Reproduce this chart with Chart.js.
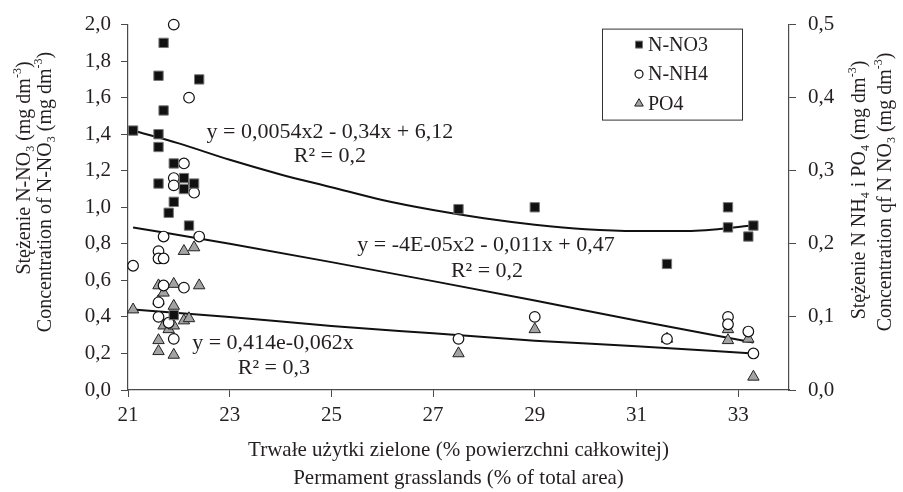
<!DOCTYPE html>
<html>
<head>
<meta charset="utf-8">
<script src="https://cdn.jsdelivr.net/npm/chart.js@4.4.1/dist/chart.umd.min.js"></script>
<style>
  html, body { margin: 0; padding: 0; background: #fff; }
  #wrap { width: 903px; height: 492px; }
</style>
</head>
<body>
<div id="wrap"><canvas id="chart" width="903" height="492"></canvas></div>
<script>
/* ── Data ─────────────────────────────────────────────────────────── */

// tick labels
const xTicks     = [21, 23, 25, 27, 29, 31, 33];
const leftTicks  = [0, 0.2, 0.4, 0.6, 0.8, 1.0, 1.2, 1.4, 1.6, 1.8, 2.0];
const rightTicks = [0, 0.1, 0.2, 0.3, 0.4, 0.5];

// N-NO3 (left axis, mg dm-3)
const no3X = [21.1, 21.6, 21.6, 21.6, 21.6, 21.7, 21.7, 21.8, 21.9, 21.9, 21.9, 22.1, 22.1, 22.2, 22.3, 22.4, 27.5, 29.0, 31.6, 32.8, 32.8, 33.2, 33.3];
const no3Y = [1.42, 1.72, 1.40, 1.33, 1.13, 1.90, 1.53, 0.97, 1.24, 1.03, 0.41, 1.16, 1.10, 0.90, 1.13, 1.70, 0.99, 1.00, 0.69, 1.00, 0.89, 0.84, 0.90];

// N-NH4 (right axis, mg dm-3)
const nh4X = [21.1, 21.6, 21.6, 21.7, 21.7, 21.7, 21.6, 21.6, 21.8, 21.9, 21.9, 21.9, 21.9, 22.1, 22.1, 22.1, 22.2, 22.3, 22.4, 27.5, 29.0, 31.6, 32.8, 32.8, 33.2, 33.3];
const nh4Y = [0.170, 0.190, 0.180, 0.180, 0.210, 0.143, 0.120, 0.100, 0.092, 0.070, 0.500, 0.290, 0.280, 0.310, 0.280, 0.140, 0.400, 0.270, 0.210, 0.070, 0.100, 0.070, 0.100, 0.090, 0.080, 0.050];

// PO4 (right axis, mg dm-3)
const po4X = [21.1, 21.6, 21.6, 21.6, 21.6, 21.7, 21.7, 21.8, 21.9, 21.9, 21.9, 21.9, 22.1, 22.1, 22.2, 22.3, 22.4, 27.5, 29.0, 31.6, 32.8, 32.8, 33.2, 33.3];
const po4Y = [0.110, 0.143, 0.122, 0.068, 0.053, 0.133, 0.088, 0.083, 0.145, 0.115, 0.088, 0.048, 0.190, 0.095, 0.098, 0.195, 0.143, 0.050, 0.083, 0.070, 0.083, 0.068, 0.070, 0.018];

// trend lines
const no3TrendX = [21.1, 22, 23, 24, 25, 26, 27, 28, 29, 30, 31, 32, 33.3];
const no3TrendY = [1.42, 1.35, 1.26, 1.18, 1.11, 1.04, 0.985, 0.94, 0.905, 0.88, 0.87, 0.87, 0.90];
const nh4TrendX = [21.1, 23, 25, 27, 29, 31, 33.3];
const nh4TrendY = [0.2225, 0.200, 0.175, 0.149, 0.1225, 0.095, 0.065];
const po4TrendX = [21.1, 23, 25, 27, 29, 31, 33.3];
const po4TrendY = [0.110, 0.100, 0.0875, 0.0775, 0.0675, 0.060, 0.050];

const seriesLabels = ['N-NO3', 'N-NH4', 'PO4'];
const equations = [
  { axis: 'y',  x: 24.97, y: 1.42,  text: 'y = 0,0054x2 - 0,34x + 6,12' },
  { axis: 'y',  x: 24.97, y: 1.29,  text: 'R² = 0,2' },
  { axis: 'y',  x: 28.04, y: 0.804, text: 'y = -4E-05x2 - 0,011x + 0,47' },
  { axis: 'y',  x: 28.06, y: 0.66,  text: 'R² = 0,2' },
  { axis: 'y',  x: 23.85, y: 0.268, text: 'y = 0,414e-0,062x' },
  { axis: 'y',  x: 23.87, y: 0.129, text: 'R² = 0,3' },
];

/* ── Styling ─────────────────────────────────────────────────────── */

const FONT  = '"Liberation Serif", "Times New Roman", serif';
const INK   = '#231f20';
const AXIS  = '#4a4a4a';
const fmt1  = v => v.toFixed(1).replace('.', ',');
const pts   = (xs, ys) => xs.map((x, i) => ({ x, y: ys[i] }));

const markerStyles = [
  { pointStyle: 'rect',     radius: 6.6, backgroundColor: '#111', borderColor: '#777', borderWidth: 1 },
  { pointStyle: 'circle',   radius: 5.3, backgroundColor: '#fff', borderColor: '#111', borderWidth: 1.2 },
  { pointStyle: 'triangle', radius: 6.6, backgroundColor: '#a3a3a3', borderColor: '#222', borderWidth: 1 },
];

function markerDataset(label, data, axis, st) {
  return {
    label, data, yAxisID: axis, showLine: false, order: 1, clip: false,
    pointStyle: st.pointStyle, pointRadius: st.radius, pointHoverRadius: st.radius,
    pointBackgroundColor: st.backgroundColor, pointBorderColor: st.borderColor,
    pointBorderWidth: st.borderWidth,
  };
}
function trendDataset(data, axis) {
  return {
    label: 'trend', data, yAxisID: axis, showLine: true, order: 2,
    borderColor: '#111', borderWidth: 2, pointRadius: 0, fill: false,
    cubicInterpolationMode: 'monotone',
  };
}

// draw text made of runs (normal / sub / sup), centred on (0,0) of current transform
function drawRuns(ctx, runs, size) {
  const small = Math.round(size * 0.62);
  let total = 0;
  runs.forEach(r => {
    ctx.font = `${r.s ? small : size}px ${FONT}`;
    r.w = ctx.measureText(r.t).width;
    total += r.w;
  });
  let x = -total / 2;
  const base = size * 0.34;
  runs.forEach(r => {
    ctx.font = `${r.s ? small : size}px ${FONT}`;
    const dy = r.s === 'sub' ? size * 0.22 : r.s === 'sup' ? -size * 0.42 : 0;
    ctx.fillText(r.t, x, base + dy);
    x += r.w;
  });
}

const leftTitle = [
  { cx: 23, cy: 168, runs: [{ t: 'Stężenie N-NO' }, { t: '3', s: 'sub' }, { t: ' (mg dm' }, { t: '-3', s: 'sup' }, { t: ')' }] },
  { cx: 44, cy: 192, runs: [{ t: 'Concentration of N-NO' }, { t: '3', s: 'sub' }, { t: ' (mg dm' }, { t: '-3', s: 'sup' }, { t: ')' }] },
];
const rightTitle = [
  { cx: 858, cy: 190, runs: [{ t: 'Stężenie N NH' }, { t: '4', s: 'sub' }, { t: ' i PO' }, { t: '4', s: 'sub' }, { t: ' (mg dm' }, { t: '-3', s: 'sup' }, { t: ')' }] },
  { cx: 884, cy: 192, runs: [{ t: 'Concentration qf N NO' }, { t: '3', s: 'sub' }, { t: ' (mg dm' }, { t: '-3', s: 'sup' }, { t: ')' }] },
];
const bottomTitle = [
  { dy: 59, text: 'Trwałe użytki zielone (% powierzchni całkowitej)' },
  { dy: 87, text: 'Permament grasslands (% of total area)' },
];

const decorPlugin = {
  id: 'decor',
  afterDraw(chart) {
    const { ctx, chartArea: ca, scales } = chart;
    ctx.save();
    ctx.fillStyle = INK;
    ctx.textAlign = 'left';
    ctx.textBaseline = 'alphabetic';

    // axis titles
    [...leftTitle, ...rightTitle].forEach(l => {
      ctx.save();
      ctx.translate(l.cx, l.cy);
      ctx.rotate(-Math.PI / 2);
      drawRuns(ctx, l.runs, 20);
      ctx.restore();
    });
    const mid = (ca.left + ca.right) / 2;
    bottomTitle.forEach(l => {
      ctx.save();
      ctx.translate(mid, ca.bottom + l.dy);
      drawRuns(ctx, [{ t: l.text }], 21);
      ctx.restore();
    });

    // trend-line equations
    equations.forEach(e => {
      ctx.save();
      ctx.translate(scales.x.getPixelForValue(e.x), scales[e.axis].getPixelForValue(e.y));
      drawRuns(ctx, [{ t: e.text }], 22);
      ctx.restore();
    });

    // legend box
    const lx = ca.left + 474, ly = ca.top + 4, lw = 140, lh = 91;
    ctx.strokeStyle = '#333';
    ctx.lineWidth = 1;
    ctx.strokeRect(lx + 0.5, ly + 0.5, lw, lh);
    seriesLabels.forEach((lab, i) => {
      const st = markerStyles[i];
      const y = ly + 16 + i * 29.5;
      ctx.fillStyle = st.backgroundColor;
      ctx.strokeStyle = st.borderColor;
      ctx.lineWidth = st.borderWidth;
      Chart.helpers.drawPoint(ctx, { pointStyle: st.pointStyle, radius: st.radius * 0.75, rotation: 0, borderWidth: st.borderWidth }, lx + 37, y);
      ctx.fillStyle = INK;
      ctx.font = `20px ${FONT}`;
      ctx.textBaseline = 'middle';
      ctx.fillText(lab, lx + 46, y + 1);
    });
    ctx.restore();
  },
};

const tickFont = { family: FONT, size: 21 };
const gridOpts = { display: true, drawOnChartArea: false, drawTicks: true, tickLength: 7, color: AXIS, tickColor: AXIS, lineWidth: 1 };
const borderOpts = { display: true, color: AXIS, width: 1.2 };

new Chart(document.getElementById('chart').getContext('2d'), {
  type: 'scatter',
  data: {
    datasets: [
      markerDataset(seriesLabels[0], pts(no3X, no3Y), 'y',  markerStyles[0]),
      markerDataset(seriesLabels[1], pts(nh4X, nh4Y), 'y2', markerStyles[1]),
      markerDataset(seriesLabels[2], pts(po4X, po4Y), 'y2', markerStyles[2]),
      trendDataset(pts(no3TrendX, no3TrendY), 'y'),
      trendDataset(pts(nh4TrendX, nh4TrendY), 'y2'),
      trendDataset(pts(po4TrendX, po4TrendY), 'y2'),
    ],
  },
  options: {
    responsive: false,
    animation: false,
    devicePixelRatio: 1,
    layout: { padding: { top: 18, left: 0, right: 0, bottom: 0 } },
    plugins: { legend: { display: false }, tooltip: { enabled: false } },
    scales: {
      x: {
        type: 'linear', position: 'bottom', min: 21, max: 34,
        afterBuildTicks: s => { s.ticks = xTicks.map(v => ({ value: v })); },
        afterFit: s => { s.height = 102; },
        ticks: { font: tickFont, color: INK, padding: 6, maxRotation: 0, callback: v => String(v) },
        grid: gridOpts, border: borderOpts,
      },
      y: {
        type: 'linear', position: 'left', min: 0, max: 2,
        afterBuildTicks: s => { s.ticks = leftTicks.map(v => ({ value: v })); },
        afterFit: s => { s.width = 128; },
        ticks: { font: tickFont, color: INK, padding: 10, callback: v => fmt1(v) },
        grid: gridOpts, border: borderOpts,
      },
      y2: {
        type: 'linear', position: 'right', min: 0, max: 0.5,
        afterBuildTicks: s => { s.ticks = rightTicks.map(v => ({ value: v })); },
        afterFit: s => { s.width = 114; },
        ticks: { font: tickFont, color: INK, padding: 12, callback: v => fmt1(v) },
        grid: gridOpts, border: borderOpts,
      },
    },
  },
  plugins: [decorPlugin],
});
</script>
</body>
</html>
